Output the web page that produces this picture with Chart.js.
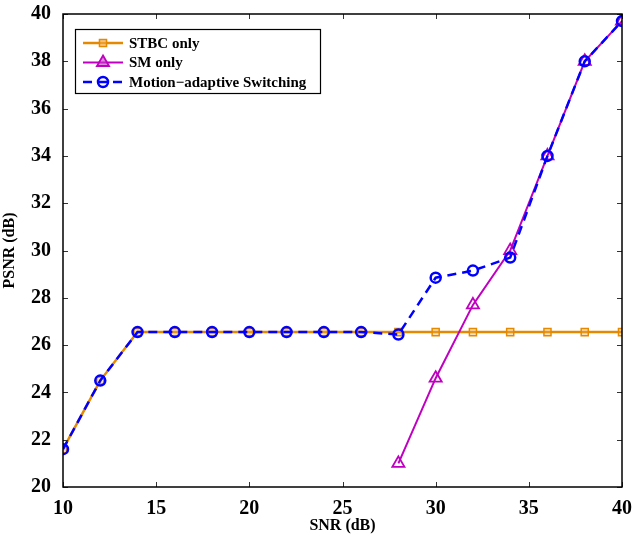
<!DOCTYPE html>
<html>
<head>
<meta charset="utf-8">
<script src="https://cdn.jsdelivr.net/npm/chart.js@4/dist/chart.umd.min.js"></script>
<style>
  html, body { margin: 0; padding: 0; background: #fff; }
  #wrap { width: 634px; height: 535px; position: relative; }
</style>
</head>
<body>
<div id="wrap"><canvas id="psnrChart"></canvas></div>
<script>
// SNR points (dB)
var snr = [10, 12, 14, 16, 18, 20, 22, 24, 26, 28, 30, 32, 34, 36, 38, 40];

// PSNR per scheme (dB)
var stbcOnly = [21.6, 24.5, 26.55, 26.55, 26.55, 26.55, 26.55, 26.55, 26.55, 26.55, 26.55, 26.55, 26.55, 26.55, 26.55, 26.55];
var smOnly = [null, null, null, null, null, null, null, null, null, 21.0, 24.6, 27.7, 30.0, 34.0, 38.0, 39.7];
var switching = [21.6, 24.5, 26.55, 26.55, 26.55, 26.55, 26.55, 26.55, 26.55, 26.45, 28.85, 29.15, 29.7, 34.0, 38.0, 39.7];

var xTicks = [10, 15, 20, 25, 30, 35, 40];
var yTicks = [20, 22, 24, 26, 28, 30, 32, 34, 36, 38, 40];

var serif = "'Liberation Serif', 'DejaVu Serif', serif";

function toPoints(ys) {
    return snr.map(function (x, i) { return { x: x, y: ys[i] }; });
}

// MATLAB style inward ticks on all four sides
var boxTicks = {
    id: 'boxTicks',
    afterDraw: function (chart) {
        var ctx = chart.ctx, a = chart.chartArea;
        var xs = chart.scales.x, ys = chart.scales.y;
        var len = 5;
        ctx.save();
        ctx.strokeStyle = '#333';
        ctx.lineWidth = 1;
        ctx.beginPath();
        xTicks.forEach(function (v) {
            var px = Math.round(xs.getPixelForValue(v)) + 0.5;
            ctx.moveTo(px, a.bottom); ctx.lineTo(px, a.bottom - len);
            ctx.moveTo(px, a.top); ctx.lineTo(px, a.top + len);
        });
        yTicks.forEach(function (v) {
            var py = Math.round(ys.getPixelForValue(v)) + 0.5;
            ctx.moveTo(a.left, py); ctx.lineTo(a.left + len, py);
            ctx.moveTo(a.right, py); ctx.lineTo(a.right - len, py);
        });
        ctx.stroke();
        ctx.strokeStyle = '#000';
        ctx.lineWidth = 1.5;
        ctx.strokeRect(a.left, a.top, a.right - a.left, a.bottom - a.top);
        ctx.restore();
    }
};

// legend box drawn inside the plot, top-left
var insideLegend = {
    id: 'insideLegend',
    afterDraw: function (chart) {
        var ctx = chart.ctx;
        var bx = 75, by = 29, bw = 245, bh = 64;
        ctx.save();
        ctx.fillStyle = '#fff';
        ctx.fillRect(bx, by, bw, bh);
        ctx.strokeStyle = '#000';
        ctx.lineWidth = 1.2;
        ctx.strokeRect(bx + 0.5, by + 0.5, bw, bh);
        chart.data.datasets.forEach(function (ds, i) {
            var y = by + 14 + i * 19.5;
            ctx.strokeStyle = ds.borderColor;
            ctx.lineWidth = ds.borderWidth;
            ctx.setLineDash(ds.borderDash || []);
            ctx.beginPath();
            ctx.moveTo(83, y); ctx.lineTo(123, y);
            ctx.stroke();
            ctx.setLineDash([]);
            ctx.strokeStyle = ds.pointBorderColor;
            ctx.fillStyle = ds.legendFill;
            ctx.lineWidth = ds.pointBorderWidth;
            Chart.helpers.drawPoint(ctx, {
                pointStyle: ds.pointStyle,
                radius: ds.pointRadius,
                borderWidth: ds.pointBorderWidth
            }, 103, y);
            ctx.fillStyle = '#000';
            ctx.font = 'bold 15px ' + serif;
            ctx.textBaseline = 'middle';
            ctx.fillText(ds.label, 129, y + 1);
        });
        ctx.restore();
    }
};

var ctx = document.getElementById('psnrChart').getContext('2d');
new Chart(ctx, {
    type: 'line',
    data: {
        datasets: [{
            label: 'STBC only',
            data: toPoints(stbcOnly),
            borderColor: '#e58a00',
            backgroundColor: 'rgba(240,170,70,0.6)',
            legendFill: 'rgba(240,170,70,0.6)',
            borderWidth: 2.5,
            pointStyle: 'rect',
            pointRadius: 5,
            pointBorderWidth: 1.5,
            pointBorderColor: '#e58a00',
            pointBackgroundColor: 'rgba(240,170,70,0.35)',
            order: 3
        }, {
            label: 'SM only',
            data: toPoints(smOnly),
            borderColor: '#c000c0',
            backgroundColor: 'rgba(200,60,200,0.5)',
            legendFill: 'rgba(200,60,200,0.6)',
            borderWidth: 2,
            pointStyle: 'triangle',
            pointRadius: 7,
            pointBorderWidth: 1.8,
            pointBorderColor: '#c000c0',
            pointBackgroundColor: 'rgba(255,255,255,0)',
            spanGaps: false,
            order: 2
        }, {
            label: 'Motion\u2212adaptive Switching',
            data: toPoints(switching),
            borderColor: '#0000ff',
            backgroundColor: 'rgba(255,255,255,0)',
            legendFill: 'rgba(255,255,255,0)',
            borderWidth: 2.5,
            borderDash: [9, 6],
            pointStyle: 'circle',
            pointRadius: 5,
            pointBorderWidth: 2.5,
            pointBorderColor: '#0000ff',
            pointBackgroundColor: 'rgba(255,255,255,0)',
            order: 1
        }]
    },
    options: {
        responsive: true,
        maintainAspectRatio: false,
        animation: false,
        events: [],
        layout: { padding: { top: 14, right: 12, left: 0, bottom: 0 } },
        plugins: {
            legend: { display: false },
            tooltip: { enabled: false }
        },
        elements: { line: { tension: 0 } },
        scales: {
            x: {
                type: 'linear',
                min: 10, max: 40,
                afterBuildTicks: function (s) { s.ticks = xTicks.map(function (v) { return { value: v }; }); },
                afterFit: function (s) { s.paddingLeft = 0; s.paddingRight = 0; s.height = 48; },
                grid: { display: false },
                border: { display: false },
                ticks: {
                    color: '#000',
                    padding: 2,
                    maxRotation: 0,
                    font: { family: serif, size: 20, weight: 'bold' }
                },
                title: {
                    display: true,
                    text: 'SNR (dB)',
                    color: '#000',
                    padding: { top: 0, bottom: 0 },
                    font: { family: serif, size: 16, weight: 'bold' }
                }
            },
            y: {
                type: 'linear',
                min: 20, max: 40,
                afterBuildTicks: function (s) { s.ticks = yTicks.map(function (v) { return { value: v }; }); },
                afterFit: function (s) { s.width = 63; s.paddingTop = 0; s.paddingBottom = 0; },
                grid: { display: false },
                border: { display: false },
                ticks: {
                    color: '#000',
                    padding: 4,
                    font: { family: serif, size: 20, weight: 'bold' }
                },
                title: {
                    display: true,
                    text: 'PSNR (dB)',
                    color: '#000',
                    padding: { top: 0, bottom: 4 },
                    font: { family: serif, size: 16, weight: 'bold' }
                }
            }
        }
    },
    plugins: [boxTicks, insideLegend]
});
</script>
</body>
</html>
